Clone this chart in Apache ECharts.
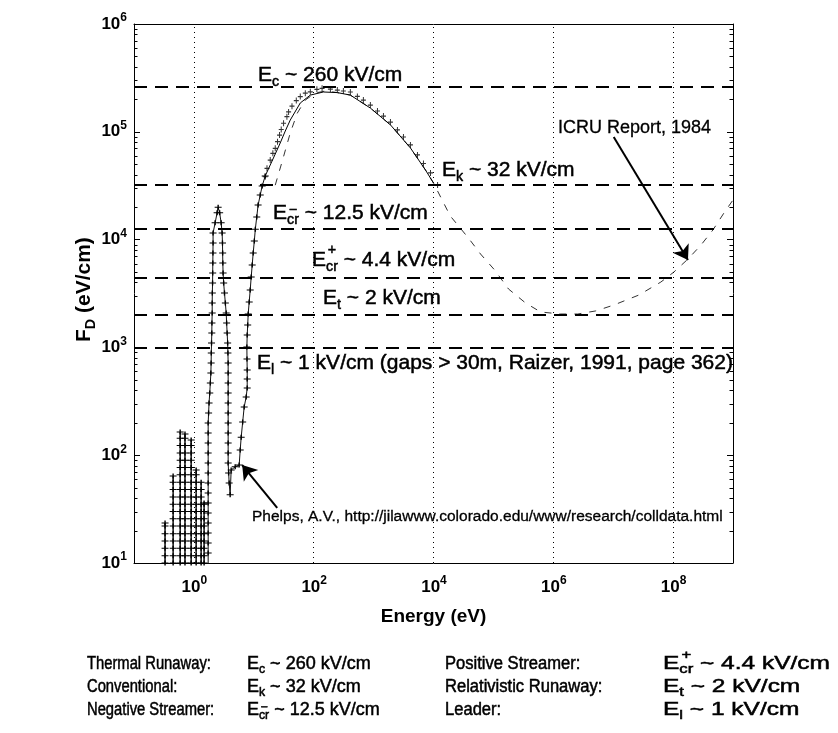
<!DOCTYPE html>
<html>
<head>
<meta charset="utf-8">
<script src="https://cdn.jsdelivr.net/npm/echarts@6/dist/echarts.min.js"></script>
<style>
html, body { margin: 0; padding: 0; background: #fff; }
#chart { width: 838px; height: 733px; }
</style>
</head>
<body>
<div id="chart"></div>
<script>
// --- data (energy in eV, F_D in eV/cm) ---
// Phelps low-energy vibrational "columns"
const columnEnergy = [0.33, 0.45, 0.59, 0.71, 0.90, 1.09, 1.32, 1.48];
const columnTop = [23.5, 64, 164, 157, 138, 73, 56, 36];
const columnLevels = [10, 11.7, 13.7, 16, 18.7, 22, 25.7, 30, 35, 41, 48, 56, 66, 77, 90, 105, 123, 144];

// Phelps: left branch up to the 2.5 eV peak, back down, then up the right branch
const phelpsBranchE = [1.73, 1.73, 1.73, 1.73, 1.73, 1.73, 1.73, 1.73, 1.73, 1.73, 1.73, 1.73, 1.73, 1.73,
  1.76, 1.79, 1.84, 1.88, 1.92, 1.94, 1.95, 1.97, 1.99, 2.00, 2.02, 2.02, 2.03, 2.05, 2.06, 2.07, 2.08, 2.09, 2.09,
  2.26, 2.44, 2.54,
  2.69, 2.85, 2.96, 3.00, 3.02, 3.04, 3.07, 3.14, 3.24, 3.35, 3.46, 3.52, 3.59, 3.66, 3.70,
  3.73, 3.73, 3.73, 3.73, 3.73, 3.73, 3.73, 3.73, 3.73, 3.73, 3.73, 3.80, 3.88, 4.03,
  4.19, 4.89, 5.70, 5.93, 6.16, 6.52, 6.91, 7.46, 7.76, 7.76, 7.76, 7.70, 7.66, 7.76, 7.91, 8.06,
  8.38, 8.71, 9.05, 9.40, 9.77, 10.2, 10.6, 11.2, 11.8, 12.8, 13.8, 15.5];
const phelpsBranchF = [12.4, 15.3, 19, 23.5, 29.1, 36, 44.6, 55.2, 68.4, 84.7, 105, 130, 161, 199,
  246, 305, 378, 468, 578, 716, 887, 1100, 1360, 1680, 2080, 2580, 3200, 3950, 4900, 6070, 7520, 9290, 11500,
  14300, 17700, 20000,
  17700, 14300, 11500, 9290, 7520, 6070, 4900, 3950, 3200, 2580, 2080, 1680, 1360, 1100, 887,
  716, 578, 468, 378, 305, 246, 199, 161, 130, 105, 84.7, 68.4, 55.2, 43,
  73, 78, 81, 112, 147, 203, 280, 347, 420, 509, 617, 780, 1010, 1300, 1610, 2040,
  2640, 3410, 4500, 5810, 7510, 9700, 12500, 16200, 20900, 25900, 31400, 38900];

// Phelps high-energy solid line and its markers
const phelpsHighE = [15.5, 18.8, 22.8, 27.6, 33.5, 40.6, 59.7, 87.7, 145, 248, 409, 883, 1910, 4120, 7350, 10000];
const phelpsHighF = [38900, 49200, 62200, 78700, 101600, 128500, 185000, 219000, 234000, 231000, 219000, 166000, 116000, 70800, 44200, 33500];
const phelpsMarkE = [15.5, 16.6, 18.8, 20.8, 22.8, 24.9, 26.9, 28.7, 31.4, 35.7, 38.1, 43.4, 51.2, 59.7, 72.4, 87.8, 113, 138,
  190, 248, 313, 409, 536, 675, 883, 1160, 1460, 1910, 2500, 3150, 4120, 5400, 6800, 8910, 11700];
const phelpsMarkF = [38300, 45800, 54700, 63100, 70300, 80900, 93300, 105000, 120000, 138000, 153000, 173000, 195000, 212000, 228000, 235000, 248000, 253000,
  249000, 244000, 239000, 234000, 213000, 197000, 177000, 156000, 140000, 123000, 104000, 89500, 75500, 61000, 50800, 41500, 32100];

// ICRU Report 1984
const icruE = [22.8, 29.9, 40.6, 53.2, 72.4, 106, 156, 248, 409, 883, 1910, 4120, 7350, 10000, 19000, 38500, 61000, 105000,
  179000, 345000, 615000, 1.33e6, 2.56e6, 5.12e6, 1.02e7, 2.68e7, 6.25e7, 1.03e8, 1.77e8, 2.92e8, 4.63e8, 7.06e8, 1e9];
const icruF = [32000, 53600, 97500, 149000, 197000, 229000, 239000, 231000, 219000, 166000, 116000, 70800, 44200, 33500, 16600, 10300, 7350, 5220,
  3480, 2580, 2130, 2040, 2040, 2180, 2470, 3060, 4040, 5000, 6600, 8900, 12300, 17650, 23300];

// breakdown field thresholds (eV/cm) and grid
const fieldLevels = [2.6e5, 3.2e4, 1.25e4, 4.4e3, 2e3, 1e3];
const gridEnergies = [1, 1e2, 1e4, 1e6, 1e8];
const minorMantissa = [2, 3, 4, 5, 6, 7, 8, 9];
const minorDecades = [10, 1e2, 1e3, 1e4, 1e5];

// --- build ---
const FONT = '"Liberation Sans", Arial, Helvetica, sans-serif';
const PLUS = 'path://M0,4L10,4L10,6L0,6Z M4,0L6,0L6,10L4,10Z';
const zip = (xs, ys) => xs.map((x, i) => [x, ys[i]]);

const phelpsLow = [];
columnEnergy.forEach((e, i) => {
    phelpsLow.push([e, 1]);
    columnLevels.filter(l => l < columnTop[i]).forEach(l => phelpsLow.push([e, l]));
    phelpsLow.push([e, columnTop[i]], [e, 1]);
});
phelpsLow.push([phelpsBranchE[0], 1]);
phelpsLow.push(...zip(phelpsBranchE, phelpsBranchF));

const minorTicks = [];
minorDecades.forEach(d => minorMantissa.forEach(m => minorTicks.push([0.1, m * d])));

const ctx = document.createElement('canvas').getContext('2d');
function measure(t, size, weight) {
    ctx.font = (weight || 'normal') + ' ' + size + 'px ' + FONT;
    return ctx.measureText(t).width;
}

// text with sub/superscripts, x = left, base = baseline
function mathLabel(x, base, size, parts, opts) {
    opts = opts || {};
    const weight = opts.weight || 'normal';
    const stroke = { stroke: '#000', lineWidth: opts.thick == null ? 0.5 : opts.thick };
    const children = [];
    let cx = 0;
    parts.forEach(p => {
        const s = p.sub ? size * 0.68 : size;
        const dy = p.sub ? size * 0.24 : 0;
        const w = measure(p.t, s, weight);
        children.push({
            type: 'text', x: cx, y: dy - 0.347 * s,
            style: Object.assign({ text: p.t, fontSize: s, fontFamily: FONT, fontWeight: weight, fill: '#000', align: 'left', verticalAlign: 'middle' }, stroke)
        });
        if (p.over) {
            const so = size * 0.68;
            children.push({
                type: 'text', x: cx + w / 2, y: p.overDy * size - 0.347 * so,
                style: Object.assign({ text: p.over, fontSize: so, fontFamily: FONT, fontWeight: weight, fill: '#000', align: 'center', verticalAlign: 'middle' }, stroke)
            });
        }
        cx += w;
    });
    return { type: 'group', x: x, y: base, scaleX: opts.sx || 1, rotation: opts.rot || 0, silent: true, children: children };
}

const sub = (t) => ({ t: t, sub: true });
const crMinus = { t: 'cr', sub: true, over: '\u2212', overDy: -0.25 };
const crPlus = { t: 'cr', sub: true, over: '+', overDy: -0.55 };
const col1 = { sx: 0.82 }, col3 = { sx: 0.92 }, col4 = { sx: 1.36 };

const graphics = [
    // y axis title
    mathLabel(91, 342, 21, [{ t: 'F' }, sub('D'), { t: ' (eV/cm)' }], { weight: 'bold', thick: 0, rot: Math.PI / 2 }),
    mathLabel(258, 82, 21, [{ t: 'E' }, sub('c'), { t: ' ~ 260 kV/cm' }]),
    mathLabel(442, 177, 21, [{ t: 'E' }, sub('k'), { t: ' ~ 32 kV/cm' }]),
    mathLabel(273, 220, 21, [{ t: 'E' }, crMinus, { t: ' ~ 12.5 kV/cm' }]),
    mathLabel(312, 267, 21, [{ t: 'E' }, crPlus, { t: ' ~ 4.4 kV/cm' }]),
    mathLabel(323, 305, 21, [{ t: 'E' }, sub('t'), { t: ' ~ 2 kV/cm' }]),
    mathLabel(257, 370, 21, [{ t: 'E' }, sub('l'), { t: ' ~ 1 kV/cm (gaps > 30m, Raizer, 1991, page 362)' }]),
    mathLabel(558, 134, 18, [{ t: 'ICRU Report, 1984' }], { thick: 0.3 }),
    mathLabel(252, 522, 15.5, [{ t: 'Phelps, A.V., http://jilawww.colorado.edu/www/research/colldata.html' }], { thick: 0.3 }),
    // summary table
    mathLabel(87, 670, 18, [{ t: 'Thermal Runaway:' }], col1),
    mathLabel(87, 693, 18, [{ t: 'Conventional:' }], col1),
    mathLabel(87, 716, 18, [{ t: 'Negative Streamer:' }], col1),
    mathLabel(247, 670, 18, [{ t: 'E' }, sub('c'), { t: ' ~ 260 kV/cm' }]),
    mathLabel(247, 693, 18, [{ t: 'E' }, sub('k'), { t: ' ~ 32 kV/cm' }]),
    mathLabel(247, 716, 18, [{ t: 'E' }, crMinus, { t: ' ~ 12.5 kV/cm' }]),
    mathLabel(445, 670, 18, [{ t: 'Positive Streamer:' }], col3),
    mathLabel(445, 693, 18, [{ t: 'Relativistic Runaway:' }], col3),
    mathLabel(445, 716, 18, [{ t: 'Leader:' }], col3),
    mathLabel(663, 670, 18, [{ t: 'E' }, crPlus, { t: ' ~ 4.4 kV/cm' }], col4),
    mathLabel(663, 693, 18, [{ t: 'E' }, sub('t'), { t: ' ~ 2 kV/cm' }], col4),
    mathLabel(663, 716, 18, [{ t: 'E' }, sub('l'), { t: ' ~ 1 kV/cm' }], col4)
];

const expLabel = v => '{b|10}{s|' + Math.round(Math.log10(v)) + '}';
const tickRich = {
    b: { fontSize: 17, fontWeight: 'bold', fontFamily: FONT, color: '#000', lineHeight: 24 },
    s: { fontSize: 12, fontWeight: 'bold', fontFamily: FONT, color: '#000', lineHeight: 12, verticalAlign: 'top' }
};
const xTickRich = {
    b: { fontSize: 17, fontWeight: 'bold', fontFamily: FONT, color: '#000', lineHeight: 24, padding: [0, 0, 0, 1] },
    s: tickRich.s
};
const blackLine = { lineStyle: { color: '#000', width: 1 } };

const chart = echarts.init(document.getElementById('chart'));
chart.setOption({
    animation: false,
    backgroundColor: '#fff',
    grid: { left: 134, top: 24, width: 599, height: 539, outerBoundsMode: 'none' },
    xAxis: [{
        type: 'log', logBase: 10, min: 0.1, max: 1e9, interval: 1,
        name: 'Energy (eV)', nameLocation: 'middle', nameGap: 44,
        nameTextStyle: { fontSize: 19, fontWeight: 'bold', fontFamily: FONT, color: '#000' },
        axisLine: blackLine, axisTick: { show: false }, splitLine: { show: false },
        axisLabel: {
            margin: 12,
            formatter: v => {
                const k = Math.round(Math.log10(v));
                return (k >= 0 && k % 2 === 0) ? expLabel(v) : '';
            },
            rich: xTickRich
        }
    }, {
        type: 'log', logBase: 10, min: 0.1, max: 1e9, position: 'top',
        axisLine: blackLine, axisTick: { show: false }, axisLabel: { show: false }, splitLine: { show: false }
    }],
    yAxis: [{
        type: 'log', logBase: 10, min: 10, max: 1e6, interval: 1,
        axisLine: blackLine,
        axisTick: { inside: true, length: 6, lineStyle: { color: '#000' } },
        splitLine: { show: false },
        axisLabel: { margin: 7, formatter: expLabel, rich: tickRich }
    }, {
        type: 'log', logBase: 10, min: 10, max: 1e6, interval: 1, position: 'right',
        axisLine: blackLine,
        axisTick: { inside: true, length: 6, lineStyle: { color: '#000' } },
        axisLabel: { show: false }, splitLine: { show: false }
    }],
    graphic: graphics,
    series: [
        {
            name: 'grid', type: 'line', data: [], silent: true,
            markLine: {
                silent: true, symbol: 'none', label: { show: false },
                lineStyle: { color: '#000', width: 1, type: [1, 4] },
                data: gridEnergies.map(v => ({ xAxis: v }))
            }
        },
        {
            name: 'fields', type: 'line', data: [], silent: true,
            markLine: {
                silent: true, symbol: 'none', label: { show: false },
                lineStyle: { color: '#000', width: 1.8, type: [13, 8] },
                data: fieldLevels.map(v => ({ yAxis: v }))
            }
        },
        {
            name: 'minor ticks', type: 'custom', silent: true, data: minorTicks,
            renderItem: (params, api) => {
                const l = api.coord([0.1, api.value(1)]);
                const r = api.coord([1e9, api.value(1)]);
                const y = Math.round(l[1]) + 0.5;
                return {
                    type: 'group', children: [
                        { type: 'line', shape: { x1: l[0], y1: y, x2: l[0] + 3.5, y2: y }, style: { stroke: '#000', lineWidth: 1 } },
                        { type: 'line', shape: { x1: r[0], y1: y, x2: r[0] - 3.5, y2: y }, style: { stroke: '#000', lineWidth: 1 } }
                    ]
                };
            }
        },
        {
            name: 'ICRU', type: 'line', data: zip(icruE, icruF), symbol: 'none', silent: true,
            lineStyle: { color: '#333', width: 1, type: [7, 8] }
        },
        {
            name: 'Phelps low', type: 'line', data: phelpsLow, silent: true,
            symbol: PLUS, symbolSize: [7, 5],
            itemStyle: { color: '#000' }, lineStyle: { color: '#111', width: 1 }
        },
        {
            name: 'Phelps high', type: 'line', data: zip(phelpsHighE, phelpsHighF), symbol: 'none', silent: true,
            lineStyle: { color: '#000', width: 1 }
        },
        {
            name: 'Phelps markers', type: 'scatter', data: zip(phelpsMarkE, phelpsMarkF), silent: true,
            symbol: PLUS, symbolSize: [5, 6], itemStyle: { color: '#000' }
        },
        {
            name: 'arrows', type: 'line', data: [], silent: true,
            markLine: {
                silent: true, symbol: ['none', 'arrow'], symbolSize: 14, label: { show: false },
                lineStyle: { color: '#000', width: 2, type: 'solid' },
                data: [
                    [{ coord: [24.6, 32.4] }, { coord: [6.4, 81] }],
                    [{ coord: [1.02e7, 8.96e4] }, { coord: [1.77e8, 6470] }]
                ]
            }
        }
    ]
});
</script>
</body>
</html>
